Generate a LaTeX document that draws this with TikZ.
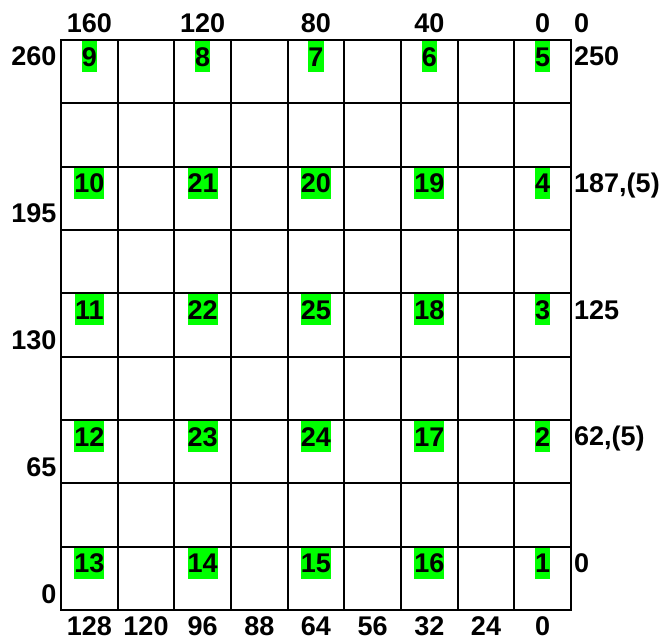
\documentclass[tikz,border=0pt]{standalone}
\usepackage{fontspec}
\setmainfont{Liberation Sans}
\definecolor{tagfill}{RGB}{0,255,0}
\begin{document}
\begin{tikzpicture}[x=1pt,y=-1pt,
  lab/.style={font=\fontsize{27}{32}\selectfont\bfseries, inner sep=0pt},
  tag/.style={lab, fill=tagfill, text height=25pt, text depth=6pt, anchor=north},
  botlab/.style={lab, anchor=base, text depth=0pt},
  gridline/.style={line width=1.7pt}]
\useasboundingbox (0,0) rectangle (659,639);
% grid
\foreach \i in {1,...,8} {
  \draw[gridline] ({61+\i*56.667},40) -- ({61+\i*56.667},610);
  \draw[gridline] (61,{40+\i*63.333}) -- (571,{40+\i*63.333});
}
\draw[gridline] (61,40) rectangle (571,610);
% green tags: row 0
\node[tag] (t9) at (89.33,40.9) {9};
\node[tag] (t8) at (202.67,40.9) {8};
\node[tag] (t7) at (316,40.9) {7};
\node[tag] (t6) at (429.33,40.9) {6};
\node[tag] (t5) at (542.67,40.9) {5};
% row 2
\node[tag] (t10) at (89.33,167.57) {10};
\node[tag] (t21) at (202.67,167.57) {21};
\node[tag] (t20) at (316,167.57) {20};
\node[tag] (t19) at (429.33,167.57) {19};
\node[tag] (t4) at (542.67,167.57) {4};
% row 4
\node[tag] (t11) at (89.33,294.23) {11};
\node[tag] (t22) at (202.67,294.23) {22};
\node[tag] (t25) at (316,294.23) {25};
\node[tag] (t18) at (429.33,294.23) {18};
\node[tag] (t3) at (542.67,294.23) {3};
% row 6
\node[tag] (t12) at (89.33,420.9) {12};
\node[tag] (t23) at (202.67,420.9) {23};
\node[tag] (t24) at (316,420.9) {24};
\node[tag] (t17) at (429.33,420.9) {17};
\node[tag] (t2) at (542.67,420.9) {2};
% row 8
\node[tag] (t13) at (89.33,547.57) {13};
\node[tag] (t14) at (202.67,547.57) {14};
\node[tag] (t15) at (316,547.57) {15};
\node[tag] (t16) at (429.33,547.57) {16};
\node[tag] (t1) at (542.67,547.57) {1};
% top labels
\node[lab, anchor=base] (top160) at (89.33,33) {160};
\node[lab, anchor=base] (top120) at (202.67,33) {120};
\node[lab, anchor=base] (top80) at (316,33) {80};
\node[lab, anchor=base] (top40) at (429.33,33) {40};
\node[lab, anchor=base] (top0) at (542.67,33) {0};
\node[lab, anchor=base west] (topr0) at (574,33) {0};
% right labels
\node[lab, anchor=base west] (r250) at (574,65.9) {250};
\node[lab, anchor=base west] (r187) at (574,192.57) {187,(5)};
\node[lab, anchor=base west] (r125) at (574,319.23) {125};
\node[lab, anchor=base west] (r62) at (574,445.9) {62,(5)};
\node[lab, anchor=base west] (r0) at (574,572.57) {0};
% left labels
\node[lab, anchor=base east] (l260) at (56.5,66) {260};
\node[lab, anchor=base east] (l195) at (56.5,223) {195};
\node[lab, anchor=base east] (l130) at (56.5,349) {130};
\node[lab, anchor=base east] (l65) at (56.5,476) {65};
\node[lab, anchor=base east] (l0) at (56.5,603) {0};
% bottom labels
\node[botlab] (b128) at (89.33,635) {128};
\node[botlab] (b120) at (146,635) {120};
\node[botlab] (b96) at (202.67,635) {96};
\node[botlab] (b88) at (259.33,635) {88};
\node[botlab] (b64) at (316,635) {64};
\node[botlab] (b56) at (372.67,635) {56};
\node[botlab] (b32) at (429.33,635) {32};
\node[botlab] (b24) at (486,635) {24};
\node[botlab] (b0) at (542.67,635) {0};
\end{tikzpicture}
\end{document}
